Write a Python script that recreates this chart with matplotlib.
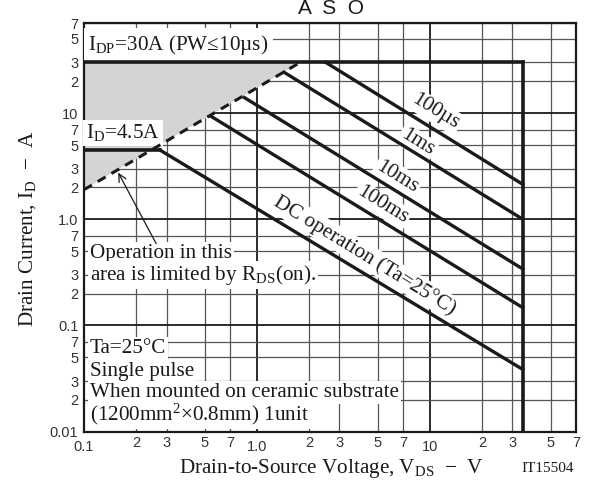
import math
import matplotlib
matplotlib.use("Agg")
import matplotlib.pyplot as plt
import numpy as np

# ---- data ----
v_max = 34.5          # VDSS limit, V
i_dp = 30.0           # pulsed drain current limit, A
i_d = 4.5             # DC drain current limit, A

# RDS(on) limit (dashed)
rds_v = [0.1, 1.78]
rds_i = [1.9, 30.0]

# shaded region left of the RDS(on) line
shade_v = [0.1, 1.78, 0.1]
shade_i = [1.9, 30.0, 30.0]

# SOA pulse lines: start on RDS(on)/IDP line, end on VDSS line
pulse_names = ["100µs", "1ms", "10ms", "100ms", "DC"]
pulse_v0 = [2.5, 1.436, 0.845, 0.544, 0.274]
pulse_i0 = [30.0, 24.2, 14.0, 9.3, 4.5]
pulse_i1 = [2.13, 1.0, 0.34, 0.147, 0.0385]

# rotated labels (text, x, y)
line_labels = ["100µs", "1ms", "10ms", "100ms", "DC operation (Ta=25°C)"]
line_label_x = [10.8, 8.45, 6.49, 5.31, 4.22]
line_label_y = [10.3, 5.25, 2.51, 1.36, 0.458]

x_major = [0.1, 1, 10]
x_major_labels = ["0.1", "1.0", "10"]
x_minor = [0.2, 0.3, 0.5, 0.7, 2, 3, 5, 7, 20, 30, 50, 70]
x_minor_labels = ["2", "3", "5", "7"] * 3
y_major = [0.01, 0.1, 1, 10]
y_major_labels = ["0.01", "0.1", "1.0", "10"]
y_minor = [0.02, 0.03, 0.05, 0.07, 0.2, 0.3, 0.5, 0.7, 2, 3, 5, 7, 20, 30, 50, 70]
y_minor_labels = ["2", "3", "5", "7"] * 4

note_lines = ["Ta=25°C", "Single pulse",
              "When mounted on ceramic substrate",
              "(1200mm$^{2}$×0.8mm) 1unit"]
note_y = [0.061, 0.037, 0.0232, 0.0147]

serif = "Liberation Serif"
sans = "Liberation Sans"
plt.rcParams["mathtext.fontset"] = "custom"
plt.rcParams["mathtext.rm"] = serif
plt.rcParams["mathtext.it"] = serif + ":italic"
plt.rcParams["font.family"] = [serif, "DejaVu Serif"]

fig = plt.figure(figsize=(6.03, 4.83), dpi=100)
ax = fig.add_axes([84 / 603, 1 - 431.7 / 483, 492 / 603, 408.4 / 483])
ax.set_xscale("log")
ax.set_yscale("log")
ax.set_xlim(0.1, 70)
ax.set_ylim(0.01, 70)

# ticks and grid
ax.xaxis.set_major_locator(matplotlib.ticker.FixedLocator(x_major))
ax.xaxis.set_minor_locator(matplotlib.ticker.FixedLocator(x_minor))
ax.yaxis.set_major_locator(matplotlib.ticker.FixedLocator(y_major))
ax.yaxis.set_minor_locator(matplotlib.ticker.FixedLocator(y_minor))
ax.xaxis.set_major_formatter(matplotlib.ticker.FixedFormatter(x_major_labels))
ax.xaxis.set_minor_formatter(matplotlib.ticker.FixedFormatter(x_minor_labels))
ax.yaxis.set_major_formatter(matplotlib.ticker.FixedFormatter(y_major_labels))
ax.yaxis.set_minor_formatter(matplotlib.ticker.FixedFormatter(y_minor_labels))
ax.tick_params(which="both", length=0, labelsize=10.5)
ax.tick_params(axis="x", which="major", pad=6)
ax.tick_params(axis="x", which="minor", pad=3)
ax.tick_params(axis="y", which="both", pad=4)
for lab in ax.get_xticklabels(which="both") + ax.get_yticklabels(which="both"):
    lab.set_fontfamily(sans)
    lab.set_color("#333333")
ax.set_axisbelow(True)
ax.grid(which="major", color="#1a1a1a", lw=1.3)
ax.grid(which="minor", color="#555555", lw=0.9)
for s in ax.spines.values():
    s.set_linewidth(1.6)
    s.set_color("#1a1a1a")

# shaded area and limit lines
ax.fill(shade_v, shade_i, color="#d3d4d6", lw=0, zorder=1)
ax.plot(rds_v, rds_i, color="#1a1a1a", lw=2.2, ls=(0, (3, 2.2)), zorder=4)
ax.plot([0.1, v_max], [i_dp, i_dp], color="#1a1a1a", lw=2.6, zorder=4)
ax.plot([v_max, v_max], [i_dp, 0.01], color="#1a1a1a", lw=2.6, zorder=4)
ax.plot([0.1, pulse_v0[-1]], [i_d, i_d], color="#1a1a1a", lw=2.6, zorder=4)
for v0, i0, i1 in zip(pulse_v0, pulse_i0, pulse_i1):
    ax.plot([v0, v_max], [i0, i1], color="#1a1a1a", lw=2.4, zorder=4)

# slope angle of the -1 lines on screen
p0 = ax.transData.transform((1, 1))
p1 = ax.transData.transform((10, 0.1))
angle = math.degrees(math.atan2(p1[1] - p0[1], p1[0] - p0[0]))

box = dict(facecolor="white", edgecolor="none", pad=1.5)
fs = 15.2
for txt, x, y in zip(line_labels, line_label_x, line_label_y):
    ax.text(x, y, txt, rotation=angle, rotation_mode="anchor", ha="center",
            va="center", fontsize=fs, bbox=box, zorder=3, color="#1a1a1a")

ax.text(0.106, 44, r"I$_{\rm DP}$=30A (PW≤10µs)", fontsize=fs, ha="left",
        va="center", bbox=dict(facecolor="white", edgecolor="none", pad=3),
        zorder=3, color="#1a1a1a")
ax.text(0.103, 6.5, r"I$_{\rm D}$=4.5A", fontsize=fs, ha="left", va="center",
        bbox=dict(facecolor="white", edgecolor="none", pad=2), zorder=3,
        color="#1a1a1a")
ax.text(0.108, 0.48, "Operation in this", fontsize=fs, ha="left", va="center",
        bbox=box, zorder=3, color="#1a1a1a")
ax.text(0.108, 0.30, r"area is limited by R$_{\rm DS}$(on).", fontsize=fs,
        ha="left", va="center", bbox=box, zorder=3, color="#1a1a1a")
ax.annotate("", xy=(0.155, 2.9), xytext=(0.266, 0.56),
            arrowprops=dict(arrowstyle="->", color="#1a1a1a", lw=0.9,
                            mutation_scale=14), zorder=5)
for txt, y in zip(note_lines, note_y):
    ax.text(0.108, y, txt, fontsize=fs, ha="left", va="center", bbox=box,
            zorder=3, color="#1a1a1a")

fig.text(28 / 603, 1 - 228 / 483, r"Drain Current, I$_{\rm D}$  −  A",
         rotation=90, ha="center", va="center", fontsize=fs, color="#1a1a1a")
fig.text(331 / 603, 1 - 468 / 483, r"Drain-to-Source Voltage, V$_{\rm DS}$  −  V",
         ha="center", va="center", fontsize=fs, color="#1a1a1a")
fig.text(548 / 603, 1 - 468 / 483, "IT15504", ha="center", va="center",
         fontsize=11, color="#1a1a1a")
fig.text(331 / 603, 1 - 14 / 483, "A  S  O", ha="center", va="baseline",
         fontsize=15, family=sans, color="#1a1a1a")

fig.savefig("out.png", dpi=100)
